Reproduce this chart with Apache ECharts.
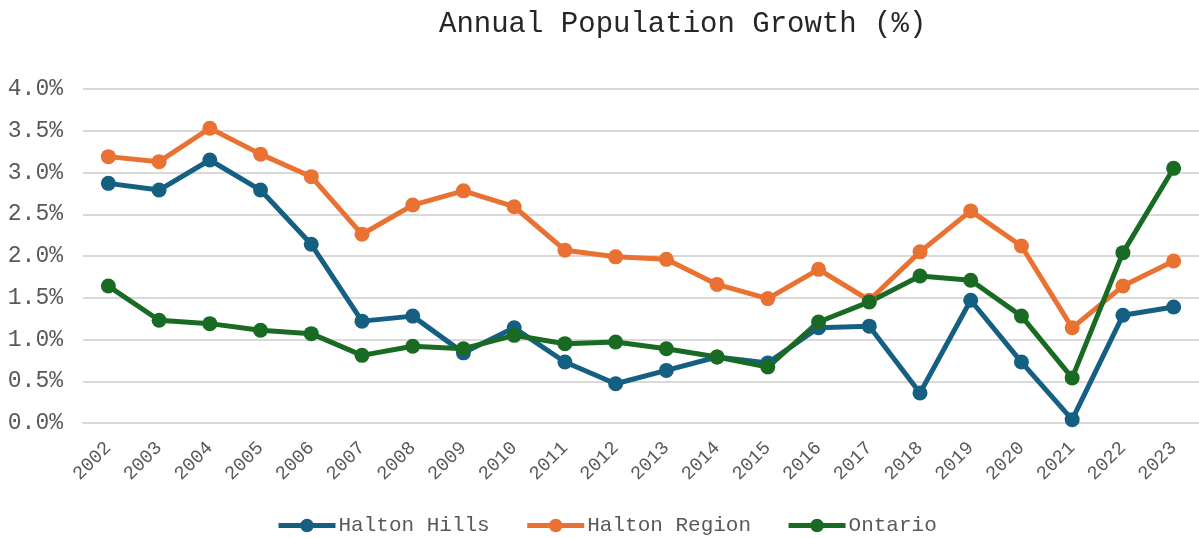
<!DOCTYPE html>
<html>
<head>
<meta charset="utf-8">
<script src="https://cdn.jsdelivr.net/npm/echarts@6/dist/echarts.min.js"></script>
<style>
  html, body { margin: 0; padding: 0; background: #fff; }
  #chart { width: 1199px; height: 538px; }
</style>
</head>
<body>
<div id="chart"></div>
<script>
const years = ['2002', '2003', '2004', '2005', '2006', '2007', '2008', '2009', '2010', '2011', '2012',
  '2013', '2014', '2015', '2016', '2017', '2018', '2019', '2020', '2021', '2022', '2023'];

const haltonHills = [2.87, 2.79, 3.15, 2.79, 2.14, 1.22, 1.28, 0.84, 1.14, 0.73, 0.47,
  0.63, 0.79, 0.72, 1.14, 1.16, 0.36, 1.47, 0.73, 0.04, 1.29, 1.39];

const haltonRegion = [3.19, 3.13, 3.53, 3.22, 2.95, 2.26, 2.61, 2.78, 2.59, 2.07, 1.99,
  1.96, 1.66, 1.49, 1.84, 1.47, 2.05, 2.54, 2.12, 1.14, 1.64, 1.94];

const ontario = [1.64, 1.23, 1.19, 1.11, 1.07, 0.81, 0.92, 0.89, 1.05, 0.95, 0.97,
  0.89, 0.79, 0.67, 1.21, 1.45, 1.76, 1.71, 1.28, 0.54, 2.04, 3.05];

const font = 'Liberation Mono';
const labelColor = '#595959';

const chart = echarts.init(document.getElementById('chart'));

const makeSeries = (name, data, color) => ({
  name: name,
  type: 'line',
  data: data,
  symbol: 'circle',
  symbolSize: 15,
  lineStyle: { width: 5, color: color },
  itemStyle: { color: color },
  emphasis: { disabled: true }
});

chart.setOption({
  animation: false,
  title: {
    text: 'Annual Population Growth (%)',
    left: 434,
    top: 5,
    textStyle: {
      fontFamily: font,
      fontSize: 29,
      fontWeight: 'normal',
      color: '#262626'
    }
  },
  legend: {
    left: 271,
    top: 510,
    itemWidth: 57,
    itemHeight: 17,
    itemGap: 35,
    lineStyle: { width: 5 },
    textStyle: {
      fontFamily: font,
      fontSize: 21,
      color: labelColor,
      padding: [0, 0, 0, -2]
    },
    data: ['Halton Hills', 'Halton Region', 'Ontario']
  },
  grid: {
    left: 83,
    top: 89,
    bottom: 115,
    width: 1122,
    containLabel: false
  },
  xAxis: {
    type: 'category',
    data: years,
    boundaryGap: true,
    axisLine: { lineStyle: { color: '#d9d9d9', width: 2 } },
    axisTick: { show: false },
    axisLabel: {
      rotate: 45,
      margin: 22,
      fontFamily: font,
      fontSize: 19,
      color: labelColor
    }
  },
  yAxis: {
    type: 'value',
    min: 0,
    max: 4,
    interval: 0.5,
    axisLine: { show: false },
    axisTick: { show: false },
    splitLine: { lineStyle: { color: '#d9d9d9', width: 2 } },
    axisLabel: {
      margin: 20,
      fontFamily: font,
      fontSize: 23,
      color: labelColor,
      formatter: (v) => v.toFixed(1) + '%'
    }
  },
  series: [
    makeSeries('Halton Hills', haltonHills, '#156082'),
    makeSeries('Halton Region', haltonRegion, '#E97132'),
    makeSeries('Ontario', ontario, '#196B24')
  ]
});
</script>
</body>
</html>
